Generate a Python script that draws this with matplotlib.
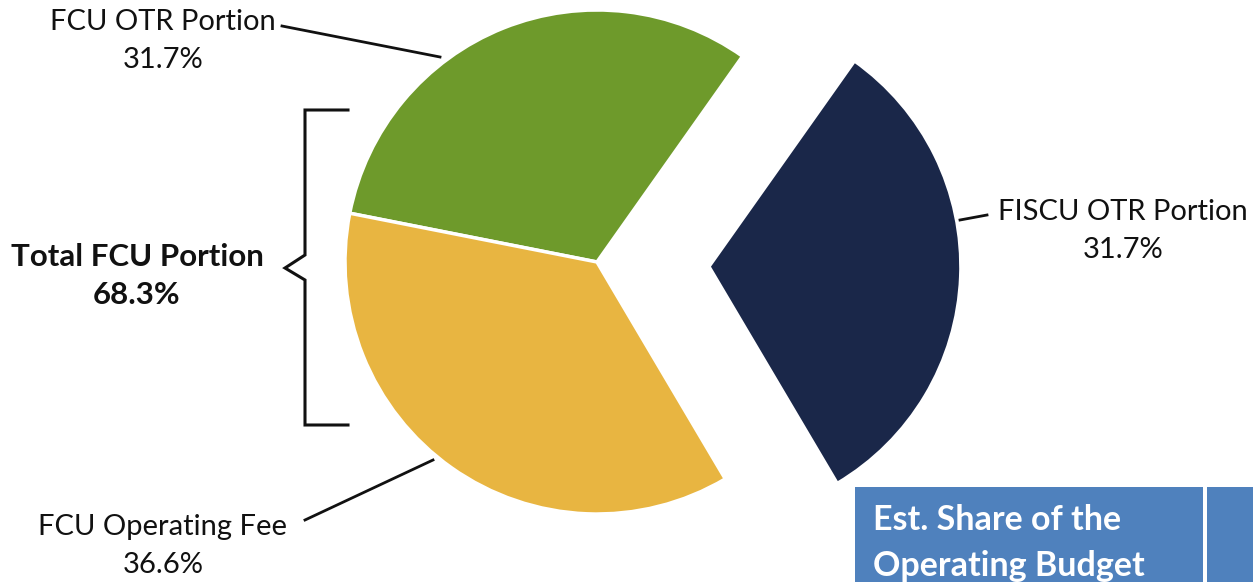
import matplotlib
matplotlib.use("Agg")
import matplotlib.pyplot as plt
from matplotlib.patches import Rectangle

# Data
categories = ["FISCU OTR Portion", "FCU OTR Portion", "FCU Operating Fee"]
shares = [31.7, 31.7, 36.6]
colors = ["#1A2749", "#6E9A2B", "#E8B541"]
total_fcu_label = "Total FCU Portion"
total_fcu_value = 68.3
table_header = "Est. Share of the\nOperating Budget"

W, H = 1253, 582
fig = plt.figure(figsize=(W / 100, H / 100), dpi=100)
ax = fig.add_axes([0, 0, 1, 1])

def Y(py):
    return H - py

cx, cy, R = 597, Y(262), 252
explode = [112, 0, 0]
ax.pie(shares, colors=colors, startangle=-59.4, counterclock=True,
       center=(cx, cy), radius=R, explode=explode,
       wedgeprops=dict(edgecolor="white", linewidth=2.5))
ax.set_xlim(0, W)
ax.set_ylim(0, H)
ax.set_aspect("auto")
ax.axis("off")

font = "Lato"
fs = 21
tc = "#111111"
ls = 1.57

# labels
ax.text(163, Y(41), f"{categories[1]}\n{shares[1]}%", ha="center", va="center",
        fontsize=fs, family=font, color=tc, linespacing=ls)
ax.plot([282, 440], [Y(26), Y(57)], color=tc, lw=2)

ax.text(163, Y(546), f"{categories[2]}\n{shares[2]}%", ha="center", va="center",
        fontsize=fs, family=font, color=tc, linespacing=ls)
ax.plot([305, 433], [Y(520), Y(460)], color=tc, lw=2)

ax.text(1123, Y(231), f"{categories[0]}\n{shares[0]}%", ha="center", va="center",
        fontsize=fs, family=font, color=tc, linespacing=ls)
ax.plot([960, 987], [Y(220), Y(215)], color=tc, lw=2)

ax.text(137, Y(276), f"{total_fcu_label}\n{total_fcu_value}%", ha="center", va="center",
        fontsize=22.5, family=font, fontweight="bold", color=tc, linespacing=1.47)

# bracket
bx = [348, 305, 305, 285, 305, 305, 348]
by = [110, 110, 255, 268, 280, 425, 425]
ax.plot(bx, [Y(v) for v in by], color=tc, lw=2.2, solid_joinstyle="miter")

# table header box
ax.add_patch(Rectangle((855, 0), 1203 - 855, Y(487), facecolor="#4F81BD",
                       edgecolor="none"))
ax.add_patch(Rectangle((1207, 0), W - 1207, Y(487), facecolor="#4F81BD",
                       edgecolor="none"))
ax.text(873, Y(543), table_header, ha="left", va="center", fontsize=24.5,
        family=font, fontweight="bold", color="white", linespacing=1.5)

fig.savefig("out.png", dpi=100)
